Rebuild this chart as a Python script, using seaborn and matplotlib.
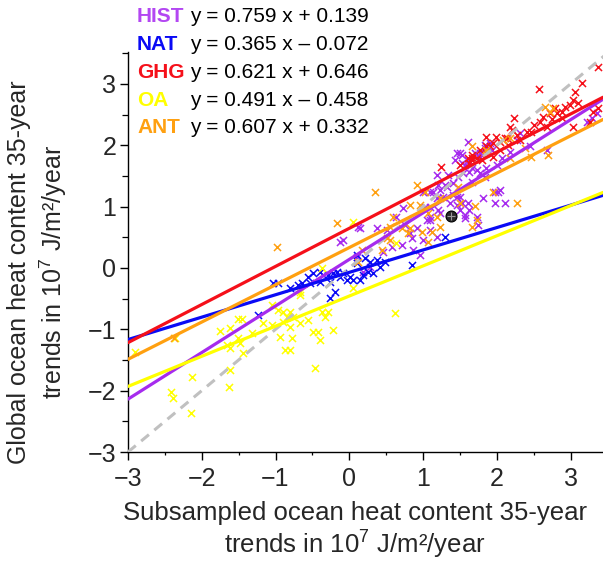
import numpy as np
import pandas as pd
import matplotlib
matplotlib.use("Agg")
import matplotlib.pyplot as plt
from matplotlib.ticker import MultipleLocator
import seaborn as sns

sns.set_style("ticks")
plt.rcParams['font.family'] = ['Liberation Sans', 'DejaVu Sans']
plt.rcParams['mathtext.fontset'] = 'custom'
plt.rcParams['mathtext.rm'] = 'Liberation Sans'
plt.rcParams['mathtext.it'] = 'Liberation Sans:italic'

# ---------------- data ----------------
groups = ["HIST", "NAT", "GHG", "OA", "ANT"]
slopes = [0.759, 0.365, 0.621, 0.491, 0.607]
intercepts = [0.139, -0.072, 0.646, -0.458, 0.332]
equations = ["y = 0.759 x + 0.139", "y = 0.365 x \u2013 0.072", "y = 0.621 x + 0.646",
             "y = 0.491 x \u2013 0.458", "y = 0.607 x + 0.332"]
line_colors = ["#A62BEE", "#0A0AF5", "#F5101A", "#FFFF00", "#FFA010"]
label_colors = ["#B347F2", "#0A0AF5", "#F5101A", "#FFFF00", "#FFA010"]

hist_x = [-0.09, 0.14, 0.37, 0.64, 0.75, 0.92, 1.05, 1.09, 1.00, 1.13, 1.23, 1.30, 1.19, 1.34, 1.46, 1.53,
          1.50, 1.09, 1.19, 1.00, 0.85, 0.71, 0.58, 0.86, 0.96, 0.82, 1.46, 1.53, 1.43, 1.57, 1.36, 0.28,
          0.10, 0.46, 0.18, 1.09, 0.73, 1.23, 0.51, 1.61, 1.50, 1.53, 1.61, 1.70, 1.77, 1.84, 1.91, 1.86,
          1.73, 1.63, 1.54, 1.47, 1.40, 1.32, 1.20, 1.09, 1.19, 1.27, 1.40, 1.50, 1.46, 1.61, 1.63, 1.73,
          1.74, 1.57, 1.81, 1.97, 2.01, 2.11, 1.97, 1.09, 1.20, 1.02, 1.84, 1.93, 1.77, 1.67, 1.66, 1.77,
          1.57, 1.67, 1.84, 2.00, 2.07, 2.18, 2.31, 2.28, 2.45, 2.68, 3.36, 3.29, 3.22, 2.04, 0.12, -0.13]
hist_y = [0.46, 0.65, 0.65, 0.83, 0.70, 0.65, 0.78, 1.00, 1.23, 1.23, 1.27, 1.36, 1.52, 1.52, 1.16, 1.06,
          0.95, 0.62, 0.51, 0.46, 0.49, 0.38, 0.34, 0.30, 0.21, 0.57, 1.88, 1.84, 1.76, 0.82, 1.06, 0.02,
          0.18, 0.26, -0.06, 0.78, 0.98, 0.90, 0.62, 2.06, 1.88, 1.71, 1.76, 1.88, 1.81, 1.96, 2.04, 1.63,
          1.60, 1.57, 1.55, 1.49, 1.39, 1.32, 1.36, 1.24, 1.14, 1.16, 1.19, 1.16, 1.03, 1.06, 0.95, 0.83,
          0.70, 0.87, 1.14, 1.06, 1.24, 1.06, 1.24, 0.83, 0.95, 1.00, 2.01, 1.93, 1.88, 1.76, 1.63, 1.55,
          1.68, 1.40, 1.49, 1.68, 1.80, 1.89, 2.20, 2.09, 1.98, 1.93, 2.53, 2.45, 2.38, 1.27, 0.67, 0.43]

nat_x = [-1.04, -0.64, -0.56, -0.49, -0.40, -0.36, -0.29, -0.26, -0.22, -0.17, -0.13, -0.09, -0.03, 0.01,
         0.05, -0.20, -0.26, 0.10, 0.21, 0.28, 0.37, 0.41, 0.25, 0.32, 0.14, 0.18, 0.85, 0.48, 0.10, -0.40,
         -0.53, -0.70, -0.80, -1.24, -0.97, 1.30]
nat_y = [-0.24, -0.24, -0.15, -0.08, -0.06, -0.11, -0.11, -0.23, -0.08, -0.06, -0.15, -0.08, -0.19, -0.15,
         -0.19, -0.39, -0.49, 0.21, 0.16, 0.10, 0.13, 0.02, -0.06, -0.08, -0.19, -0.11, 0.05, 0.10, 0.08, -0.23,
         -0.24, -0.28, -0.32, -0.77, -0.25, 0.51]

ghg_x = [2.57, 3.15, 3.37, 3.06, 3.03, 3.10, 2.99, 2.89, 2.81, 2.72, 2.75, 2.62, 2.58, 2.51, 2.41, 2.47,
         2.68, 2.24, 2.20, 2.28, 2.14, 2.04, 1.95, 2.04, 2.15, 1.86, 1.95, 1.77, 1.67, 1.63, 3.03, 3.30,
         3.26, 3.37, 2.88, 2.79, 2.92, 2.18, 2.11, 1.91, 1.86, 1.73, 1.66, 1.25, 1.50, 1.99, 1.61, 1.67,
         1.80, 1.86, 2.31]
ghg_y = [2.92, 3.02, 3.28, 2.86, 2.74, 2.69, 2.66, 2.55, 2.53, 2.53, 2.42, 2.46, 2.38, 2.33, 2.22, 2.22,
         2.29, 2.45, 2.25, 2.17, 2.12, 2.06, 2.04, 1.93, 2.01, 1.98, 1.81, 1.93, 1.76, 1.71, 2.29, 2.55,
         2.38, 2.61, 2.45, 2.61, 2.63, 2.29, 2.12, 1.98, 2.14, 1.80, 1.80, 1.65, 1.68, 2.14, 1.80, 1.84,
         1.76, 1.88, 2.09]

oa_x = [-2.905, -2.36, -2.13, -2.42, -2.39, -2.15, -1.75, -1.62, -1.51, -1.46, -1.66, -1.62, -1.51, -1.48,
        -1.44, -1.62, -1.63, -1.32, -1.17, -1.05, -1.05, -0.97, -0.90, -0.80, -0.85, -0.76, -0.90, -0.80,
        -0.94, -0.78, -0.87, -0.80, -0.67, -0.67, -0.56, -0.49, -0.43, -0.40, -0.47, -0.37, -0.29, -0.33,
        -0.22, 0.05, 0.62, -0.37, 0.05, 0.64, -0.67]
oa_y = [-1.37, -1.14, -1.78, -2.02, -2.12, -2.36, -1.03, -0.98, -0.83, -0.83, -1.25, -1.30, -1.14, -1.22,
        -1.38, -1.66, -1.94, -1.06, -0.90, -0.93, -0.60, -0.68, -0.72, -0.72, -0.80, -0.80, -0.88, -0.96,
        -1.12, -1.14, -1.34, -1.34, -0.44, -0.90, -0.85, -1.04, -1.04, -1.17, -1.63, -0.72, -0.72, -0.80,
        -1.01, -0.32, -0.73, 0.00, 0.75, 0.41, -0.40]

ant_x = [0.35, 0.92, 0.82, 1.07, 1.02, 1.23, 1.47, 1.50, 1.66, 1.70, 1.73, 1.67, 1.95, 2.28, 2.65, 2.72,
         2.76, 2.69, 2.47, 2.38, 2.18, 2.08, 2.18, 1.86, 0.59, 0.55, 0.71, 0.82, 0.79, 1.07, 0.98, 1.23,
         0.44, 0.51, -0.17, 0.17, 0.12, 0.55, 0.96, 1.19, 1.12, -0.98, -2.38]
ant_y = [1.24, 1.36, 1.03, 0.90, 1.23, 1.14, 1.32, 1.06, 1.98, 1.01, 0.78, 0.67, 1.24, 1.06, 2.63, 2.55,
         2.61, 1.84, 1.81, 1.96, 2.12, 2.09, 1.80, 1.93, 0.83, 0.67, 0.65, 0.65, 0.57, 0.43, 0.59, 0.67,
         0.30, 0.49, 0.74, 0.30, 0.10, 0.46, 1.03, 0.83, 0.59, 0.34, -1.14]

obs_x = [1.38]
obs_y = [0.85]

x_ticks = [-3, -2, -1, 0, 1, 2, 3]
y_ticks = [-3, -2, -1, 0, 1, 2, 3]
xlabel = "Subsampled ocean heat content 35-year\ntrends in 10$^7$ J/m\u00b2/year"
ylabel = "Global ocean heat content 35-year\ntrends in 10$^7$ J/m\u00b2/year"

# ---------------- figure ----------------
W, H = 603, 562
fig = plt.figure(figsize=(W / 100, H / 100), dpi=100)
ax = fig.add_axes([128 / W, 1 - 452 / H, (W - 128) / W, (452 - 52) / H])
XMIN, XMAX, YMIN, YMAX = -3, 3.44, -3, 3.52

xs = {"HIST": hist_x, "NAT": nat_x, "GHG": ghg_x, "OA": oa_x, "ANT": ant_x}
ys = {"HIST": hist_y, "NAT": nat_y, "GHG": ghg_y, "OA": oa_y, "ANT": ant_y}
df = pd.concat([pd.DataFrame({"x": xs[g], "y": ys[g], "group": g}) for g in groups], ignore_index=True)
palette = dict(zip(groups, line_colors))

# 1:1 dashed line (below regression lines)
sns.lineplot(x=[XMIN, YMAX], y=[XMIN, YMAX], ax=ax, color="#C0C0C0", lw=2.2,
             linestyle=(0, (3.3, 2.3)), zorder=3)

for g in groups:
    sub = df[df.group == g]
    sns.scatterplot(data=sub, x="x", y="y", color=palette[g], marker="x", s=26,
                    linewidth=1.1, ax=ax, legend=False, zorder=2)

# observation marker
ax.scatter(obs_x, obs_y, s=62, color="#2a2a2a", edgecolor="black", linewidth=0.8, zorder=6)
ax.scatter(obs_x, obs_y, s=40, marker="+", color="#9a9a9a", linewidth=0.8, zorder=7)

# regression lines from the published equations
lx = np.array([XMIN, XMAX])
for g, m, b, c in zip(groups, slopes, intercepts, line_colors):
    ldf = pd.DataFrame({"x": lx, "y": m * lx + b})
    sns.lineplot(data=ldf, x="x", y="y", color=c, lw=2.3, ax=ax, zorder=4)

ax.set_xlim(XMIN, XMAX)
ax.set_ylim(YMIN, YMAX)
ax.set_xticks(x_ticks)
ax.set_yticks(y_ticks)
ax.xaxis.set_minor_locator(MultipleLocator(0.5))
ax.yaxis.set_minor_locator(MultipleLocator(0.5))
ax.tick_params(which="major", length=5.5, width=1.0, labelsize=18, color="black")
ax.tick_params(axis="x", which="major", pad=5)
ax.tick_params(axis="y", which="major", pad=3)
ax.tick_params(which="minor", length=2.5, width=0.9, color="black")
ax.tick_params(axis="y", which="minor", length=4.5)
for s in ["top", "right"]:
    ax.spines[s].set_visible(False)
for s in ["left", "bottom"]:
    ax.spines[s].set_linewidth(1.0)
    ax.spines[s].set_color("black")
ax.set_xlabel("")
ax.set_ylabel("")
ax.set_facecolor("white")

fig.text(355 / W, 1 - 531 / H, xlabel, ha="center", va="center", fontsize=18.5, linespacing=1.15)
fig.text(38 / W, 1 - 272 / H, ylabel, ha="center", va="center", rotation=90, fontsize=18,
         linespacing=1.3)

# legend-like equations
ypos = [17, 45, 73, 100, 128]
for g, eq, c, yp in zip(groups, equations, label_colors, ypos):
    fig.text(137 / W, 1 - yp / H, g, color=c, fontsize=15, fontweight="bold", ha="left", va="center")
    fig.text(190 / W, 1 - yp / H, eq, color="black", fontsize=15, ha="left", va="center")

fig.savefig("out.png", dpi=100, facecolor="white")
